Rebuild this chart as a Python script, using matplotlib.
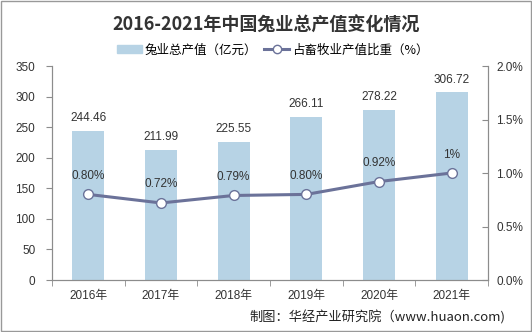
import matplotlib
matplotlib.use('Agg')
import matplotlib.pyplot as plt
from matplotlib.patches import Rectangle
from matplotlib.lines import Line2D
from matplotlib.ticker import FixedLocator, FuncFormatter

plt.rcParams['font.family'] = ['Liberation Sans', 'Noto Sans CJK SC', 'DejaVu Sans']

years = ['2016年', '2017年', '2018年', '2019年', '2020年', '2021年']
output_value = [244.46, 211.99, 225.55, 266.11, 278.22, 306.72]
share_pct = [0.80, 0.72, 0.79, 0.80, 0.92, 1.00]
share_labels = ['0.80%', '0.72%', '0.79%', '0.80%', '0.92%', '1%']

bar_color = '#b7d3e5'
line_color = '#6b7299'
axis_color = '#8c8c8c'
text_color = '#333333'

fig = plt.figure(figsize=(5.32, 3.32), dpi=100)
ax = fig.add_axes([0.0977, 0.1566, 0.8195, 0.6446])
ax2 = ax.twinx()

x = list(range(len(years)))
ax.bar(x, output_value, width=0.44, color=bar_color, zorder=1)
for xi, v in zip(x, output_value):
    ax.annotate(f'{v:.2f}', (xi, v), xytext=(0, 5), textcoords='offset points',
                ha='center', va='bottom', fontsize=8.5, color=text_color)

ax.set_xlim(-0.5, len(years) - 0.5)
ax.set_ylim(0, 350)
ax.set_yticks(range(0, 351, 50))
ax.set_xticks(x)
ax.set_xticklabels(years)
ax.xaxis.set_minor_locator(FixedLocator([i - 0.5 for i in range(len(years) + 1)]))
ax.tick_params(axis='x', which='major', length=0, pad=7, labelsize=8.5, labelcolor=text_color)
ax.tick_params(axis='x', which='minor', length=4, color=axis_color, direction='out')
ax.tick_params(axis='y', length=4, color=axis_color, labelsize=8.5, labelcolor=text_color, pad=8)

ax2.plot(x, share_pct, color=line_color, lw=2.2, marker='o', ms=7,
         mfc='white', mec=line_color, mew=1.0, zorder=3)
for xi, v, lab in zip(x, share_pct, share_labels):
    ax2.annotate(lab, (xi, v), xytext=(0, 9), textcoords='offset points',
                 ha='center', va='bottom', fontsize=8.5, color=text_color)
ax2.set_ylim(0, 2.0)
ax2.set_yticks([0, 0.5, 1.0, 1.5, 2.0])
ax2.yaxis.set_major_formatter(FuncFormatter(lambda v, p: f'{v:.1f}%'))
ax2.tick_params(axis='y', direction='in', length=4, color=axis_color,
                labelsize=8.5, labelcolor=text_color, pad=6)

for a in (ax, ax2):
    a.spines['top'].set_visible(False)
    for s in ('left', 'right', 'bottom'):
        a.spines[s].set_color(axis_color)
        a.spines[s].set_linewidth(0.8)

fig.text(0.5, 0.925, '2016-2021年中国兔业总产值变化情况', ha='center', va='center',
         fontsize=13, fontweight='bold', color=text_color, family=['Noto Sans CJK SC'])

handles = [Rectangle((0, 0), 1, 1, color=bar_color),
           Line2D([], [], color=line_color, lw=2.2, marker='o', ms=6,
                  mfc='white', mec=line_color)]
fig.legend(handles, ['兔业总产值（亿元）', '占畜牧业产值比重（%）'], loc='center',
           bbox_to_anchor=(0.512, 0.85), ncol=2, frameon=False,
           handlelength=2.0, handletextpad=0.2, columnspacing=0.6,
           prop={'family': ['Noto Sans CJK SC'], 'size': 9})

fig.text(0.95, 0.043, '制图：华经产业研究院（www.huaon.com)', ha='right', va='center',
         fontsize=9.5, color='#222222', family=['Noto Sans CJK SC'])

fig.patches.append(Rectangle((0.002, 0.003), 0.996, 0.994, transform=fig.transFigure,
                             fill=False, edgecolor='#999999', lw=1.0))

fig.savefig('out.png', dpi=100)
